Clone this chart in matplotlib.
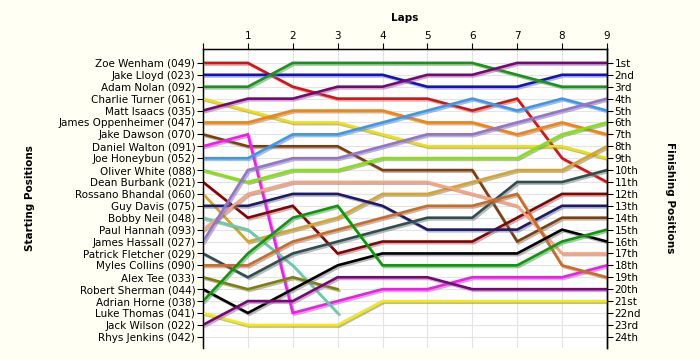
import matplotlib
matplotlib.use("Agg")
import matplotlib.pyplot as plt
import matplotlib.patheffects as pe

# starting grid, top to bottom
drivers = ["Zoe Wenham (049)", "Jake Lloyd (023)", "Adam Nolan (092)",
           "Charlie Turner (061)", "Matt Isaacs (035)", "James Oppenheimer (047)",
           "Jake Dawson (070)", "Daniel Walton (091)", "Joe Honeybun (052)",
           "Oliver White (088)", "Dean Burbank (021)", "Rossano Bhandal (060)",
           "Guy Davis (075)", "Bobby Neil (048)", "Paul Hannah (093)",
           "James Hassall (027)", "Patrick Fletcher (029)", "Myles Collins (090)",
           "Alex Tee (033)", "Robert Sherman (044)", "Adrian Horne (038)",
           "Luke Thomas (041)", "Jack Wilson (022)", "Rhys Jenkins (042)"]

# position after each lap (lap 0 = grid)
wenham = [1, 1, 3, 4, 4, 4, 5, 4, 9, 11]
lloyd = [2, 2, 2, 2, 2, 3, 3, 3, 2, 2]
nolan = [3, 3, 1, 1, 1, 1, 1, 2, 3, 3]
turner = [4, 5, 6, 6, 7, 8, 8, 8, 8, 9]
isaacs = [5, 4, 4, 3, 3, 2, 2, 1, 1, 1]
oppenheimer = [6, 6, 5, 5, 5, 6, 6, 7, 6, 7]
dawson = [7, 8, 8, 8, 10, 10, 10, 16, 14, 14]
walton = [8, 7, 22, 21, 20, 20, 19, 19, 19, 18]
honeybun = [9, 9, 7, 7, 6, 5, 4, 5, 4, 5]
white = [10, 11, 10, 10, 9, 9, 9, 9, 7, 6]
burbank = [11, 14, 13, 17, 16, 16, 16, 14, 12, 12]
bhandal = [12, 16, 15, 14, 12, 12, 11, 10, 10, 8]
davis = [13, 13, 12, 12, 13, 15, 15, 15, 13, 13]
neil = [14, 15, 18, 22]
hannah = [15, 12, 11, 11, 11, 11, 12, 13, 17, 17]
hassall = [16, 10, 9, 9, 8, 7, 7, 6, 5, 4]
fletcher = [17, 19, 17, 16, 15, 14, 14, 11, 11, 10]
collins = [18, 18, 16, 15, 14, 13, 13, 12, 18, 19]
tee = [19, 20, 19, 20]
sherman = [20, 22, 20, 18, 17, 17, 17, 17, 15, 16]
horne = [21, 17, 14, 13, 18, 18, 18, 18, 16, 15]
thomas = [22, 23, 23, 23, 21, 21, 21, 21, 21, 21]
wilson = [23, 21, 21, 19, 19, 19, 20, 20, 20, 20]
jenkins = []

laps_by_driver = [wenham, lloyd, nolan, turner, isaacs, oppenheimer, dawson,
                  walton, honeybun, white, burbank, bhandal, davis, neil, hannah,
                  hassall, fletcher, collins, tee, sherman, horne, thomas,
                  wilson, jenkins]

colors = ["#E01010", "#1010D0", "#109A10", "#F2E000", "#800080", "#FF8000",
          "#7F3F0A", "#FF10FF", "#3399FF", "#80E800", "#8B0000", "#DAA520",
          "#1A1A70", "#66CDAA", "#FFA07A", "#9370DB", "#2F4F4F", "#D2691E",
          "#808000", "#000000", "#00A000", "#F5EC00", "#800080", "#999999"]

finish_labels = ["1st", "2nd", "3rd"] + [f"{i}th" for i in range(4, 21)] + \
                ["21st", "22nd", "23rd", "24th"]
lap_labels = [""] + [str(i) for i in range(1, 10)]

bg = "#FFFFF4"
fig = plt.figure(figsize=(7, 3.6), dpi=100, facecolor=bg)
ax = fig.add_axes([0.29, 0.033, 0.577, 0.832])
ax.set_facecolor("white")

shadow = [pe.SimpleLineShadow(offset=(1.2, -1.2), shadow_color="#808080", alpha=0.55),
          pe.Normal()]
for pos, c in zip(laps_by_driver, colors):
    if not pos:
        continue
    ax.plot(range(len(pos)), pos, color=c, lw=1.9, path_effects=shadow,
            solid_joinstyle="miter", zorder=3)

n = len(drivers)
ax.set_xlim(0, 9)
ax.set_ylim(n + 0.95, -0.2)

ax.xaxis.tick_top()
ax.set_xticks(range(10))
ax.set_xticklabels(lap_labels, fontsize=7.5)
ax.set_yticks(range(1, n + 1))
ax.set_yticklabels(drivers, fontsize=7.5)
ax.tick_params(axis="both", direction="out", length=4, width=0.8, pad=1.5)
ax.grid(True, color="#E4E4E4", lw=0.8, zorder=0)
ax.spines["bottom"].set_visible(False)
for s in ["top", "left", "right"]:
    ax.spines[s].set_linewidth(1.0)

ax2 = ax.twinx()
ax2.set_ylim(ax.get_ylim())
ax2.set_yticks(range(1, n + 1))
ax2.set_yticklabels(finish_labels, fontsize=7.5)
ax2.tick_params(axis="y", direction="out", length=4, width=0.8, pad=1.5)
ax2.spines["bottom"].set_visible(False)
ax2.spines["right"].set_linewidth(1.0)

fig.text(0.578, 0.95, "Laps", ha="center", va="center", fontsize=7.5, fontweight="bold")
fig.text(0.043, 0.45, "Starting Positions", ha="center", va="center",
         rotation=90, fontsize=7.5, fontweight="bold")
fig.text(0.957, 0.45, "Finishing Positions", ha="center", va="center",
         rotation=270, fontsize=7.5, fontweight="bold")

fig.savefig("out.png", dpi=100, facecolor=bg)
